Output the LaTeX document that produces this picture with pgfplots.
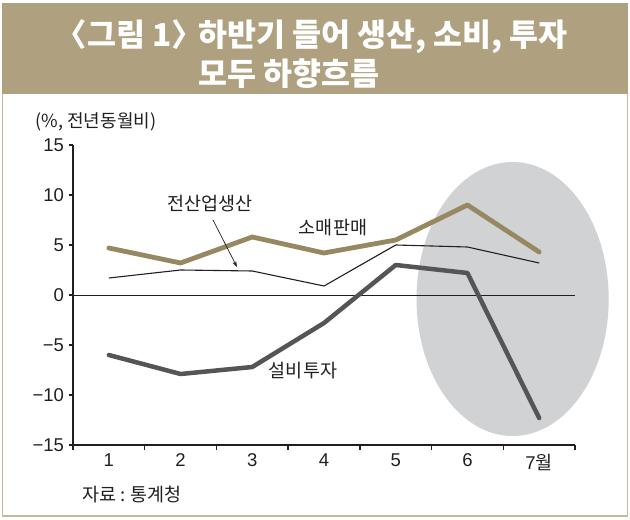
\documentclass[border=0pt]{standalone}
\usepackage{fontspec}
\setmainfont{Liberation Sans}
\newfontfamily\kr{Noto Sans CJK KR}
\usepackage{pgfplots}
\pgfplotsset{compat=1.18}
\usetikzlibrary{arrows.meta}
\definecolor{titletan}{RGB}{175,161,128}
\definecolor{retail}{RGB}{150,136,96}
\definecolor{invest}{RGB}{85,85,88}
\definecolor{ell}{RGB}{209,210,212}
\definecolor{frame}{RGB}{195,185,158}
\definecolor{txt}{RGB}{35,31,32}
\begin{document}
\begin{tikzpicture}[x=1pt,y=1pt]
\useasboundingbox (0,0) rectangle (630,520);
\fill[white] (0,0) rectangle (630,520);
\fill[titletan] (2,426) rectangle (628,517);
\draw[frame, line width=1.5pt] (2.5,426) -- (2.5,4) -- (627.5,4) -- (627.5,426);
\node[white, font=\kr\bfseries\fontsize{31.5}{35}\selectfont, anchor=west] at (52,483) {〈그림 1〉\kern-0.15em 하반기 들어 생산, 소비, 투자};
\node[white, font=\kr\bfseries\fontsize{31.5}{35}\selectfont] at (289,446) {모두 하향흐름};
\begin{axis}[
  at={(73pt,75pt)}, anchor=south west, scale only axis,
  width=502pt, height=300pt,
  xmin=0.5, xmax=7.5, ymin=-15, ymax=15,
  axis x line=bottom, axis y line=left,
  axis line style={-, line width=1.6pt, txt},
  tick align=outside,
  major tick length=4.5pt, minor tick length=5pt,
  tick style={line width=1.3pt, txt},
  xtick={1,...,7},
  xticklabels={1,2,3,4,5,6,{7{\kr 월}}},
  major x tick style={draw=none},
  minor xtick={0.5,1.5,...,7.5},
  ytick={-15,-10,...,15},
  yticklabels={−15,−10,−5,0,5,10,15},
  ticklabel style={font=\fontsize{18.5}{21}\selectfont, text=txt},
  xticklabel style={yshift=-1pt},
  yticklabel style={xshift=-1pt},
  clip=false,
]
\fill[ell] (axis cs:6.63,-0.4) ellipse [x radius=1.34, y radius=13.7];
\addplot[txt, line width=0.9pt] coordinates {(0.5,0) (7.5,0)};
\addplot[txt, line width=1.1pt, line join=round] coordinates {
(1,1.7) (2,2.5) (3,2.4) (4,0.9) (5,5.0) (6,4.8) (7,3.2)};
\addplot[retail, line width=4.8pt, line join=round, line cap=round] coordinates {
(1,4.7) (2,3.2) (3,5.8) (4,4.2) (5,5.5) (6,9.0) (7,4.3)};
\addplot[invest, line width=4.5pt, line join=round, line cap=round] coordinates {
(1,-6.0) (2,-7.9) (3,-7.2) (4,-2.8) (5,3.0) (6,2.2) (7,-12.3)};
\end{axis}
\node[txt, font=\kr\fontsize{18}{21}\selectfont] at (96,398) {(\%, 전년동월비)};
\node[txt, font=\kr\fontsize{18.5}{21}\selectfont] at (210,316) {전산업생산};
\node[txt, font=\kr\fontsize{18.5}{21}\selectfont] at (333,292) {소매판매};
\node[txt, font=\kr\fontsize{18.5}{21}\selectfont] at (303,149) {설비투자};
\node[txt, font=\kr\fontsize{18.5}{21}\selectfont] at (132,25) {자료 : 통계청};
\draw[txt, line width=0.7pt, -{Stealth[length=6pt,width=4pt]}] (213,300) -- (237,253);
\end{tikzpicture}
\end{document}
